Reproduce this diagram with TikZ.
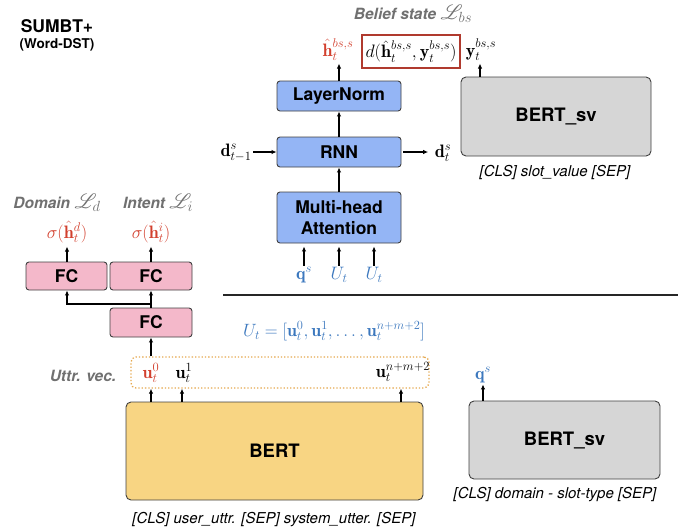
\RequirePackage{fix-cm}
\documentclass[tikz,border=0pt]{standalone}
\usepackage{amsmath}
\IfFileExists{mathrsfs.sty}{\usepackage{mathrsfs}\newcommand\myL{\mathscr{L}}}{\newcommand\myL{\mathcal{L}}}
\usepackage{fontspec}
\setsansfont{TeX Gyre Heros}
\usetikzlibrary{arrows.meta}
\newcommand\myfs[1]{\fontsize{#1}{#1}\selectfont}
\definecolor{redt}{HTML}{D2402E}
\definecolor{bluet}{HTML}{3C78BE}
\definecolor{grayt}{HTML}{707070}
\definecolor{boxblue}{HTML}{94B5F5}
\definecolor{pinkc}{HTML}{F4B8CA}
\definecolor{yellowc}{HTML}{F8D583}
\definecolor{grayc}{HTML}{D6D6D6}
\definecolor{orangec}{HTML}{E5A84E}
\definecolor{redbox}{HTML}{B03A2E}
\begin{document}
\begin{tikzpicture}[x=1pt,y=-1pt,
  arr/.style={-{Latex[length=5pt,width=4.5pt]}, line width=1.1pt},
  blk/.style={draw=black!75, line width=0.9pt, rounded corners=3pt, inner sep=0pt, font=\sffamily\bfseries\myfs{17.5}},
  bigblk/.style={blk, rounded corners=5pt, font=\sffamily\bfseries\myfs{18.5}},
  mlbl/.style={inner sep=0.5pt, font=\myfs{18}},
  glbl/.style={inner sep=0pt, text=grayt, font=\sffamily\bfseries\itshape\myfs{15.5}},
  clbl/.style={inner sep=0pt, font=\sffamily\itshape\myfs{15}}]
\useasboundingbox (0,0) rectangle (694,531);

% title
\node[inner sep=0pt, font=\sffamily\bfseries\myfs{17.5}] (title) at (57,26) {SUMBT+};
\node[inner sep=0pt, font=\sffamily\bfseries\myfs{13.5}] (sub) at (57,45) {(Word-DST)};

% left part
\node[glbl] (ldom) at (57,203) {Domain {\myfs{21}$\myL_d$}};
\node[glbl] (lint) at (158,203) {Intent {\myfs{21}$\myL_i$}};
\node[mlbl, text=redt] (sd) at (67,232) {$\sigma(\hat{\mathbf{h}}_t^d)$};
\node[mlbl, text=redt] (si) at (151,232) {$\sigma(\hat{\mathbf{h}}_t^i)$};
\node[blk, fill=pinkc, minimum width=81pt, minimum height=28pt] (fcd) at (66.5,276) {FC};
\node[blk, fill=pinkc, minimum width=82pt, minimum height=28pt] (fci) at (151,276) {FC};
\node[blk, fill=pinkc, minimum width=82pt, minimum height=29pt] (fcb) at (151,322.5) {FC};
\draw[arr, shorten >=3pt] (fcd.north -| sd) -- (sd.south);
\draw[arr, shorten >=3pt] (fci.north -| si) -- (si.south);
\draw[arr] (fcb.north) -- (fci.south);
\coordinate (br) at (151,304);
\draw[arr] (br) -| (fcd.south -| sd);

% utterance vectors
\node[draw=orangec, dotted, line width=1.3pt, rounded corners=5pt, minimum width=298pt, minimum height=31pt, inner sep=0pt] (uttr) at (280,372.5) {};
\node[mlbl, text=redt] (u0) at (151,373) {$\mathbf{u}_t^0$};
\node[mlbl] (u1) at (184,373) {$\mathbf{u}_t^1$};
\node[mlbl] (un) at (403,372) {$\mathbf{u}_t^{n+m+2}$};
\node[glbl] (uvec) at (83,376) {Uttr. vec.};
\coordinate (un-x) at (401,372);
\coordinate (u1-x) at (182,372);
\draw[arr] (uttr.north -| fcb) -- (fcb.south);

% BERT
\node[bigblk, fill=yellowc, minimum width=297pt, minimum height=98pt] (bert) at (274.5,451) {BERT};
\node[clbl] (cls1) at (274,520) {[CLS] user\_uttr. [SEP] system\_utter. [SEP]};
\draw[arr] (bert.north -| u0) -- (uttr.south -| u0);
\draw[arr] (bert.north -| u1-x) -- (uttr.south -| u1-x);
\draw[arr] (bert.north -| un-x) -- (uttr.south -| un-x);

% U_t equation and separator
\node[mlbl, text=bluet, font=\myfs{17.8}] (ueq) at (334,331) {$U_t=[\mathbf{u}_t^0,\mathbf{u}_t^1,\ldots,\mathbf{u}_t^{n+m+2}]$};
\coordinate (sepL) at (223,295);
\coordinate (sepR) at (678,295);
\draw[line width=1.3pt, black!85] (sepL) -- (sepR);

% BERT_sv bottom
\node[bigblk, fill=grayc, minimum width=191pt, minimum height=78pt] (bsv2) at (564.5,440) {BERT\_sv};
\node[clbl] (cls2) at (555,495) {[CLS] domain - slot-type [SEP]};
\node[mlbl, text=bluet] (qs2) at (483,375) {$\mathbf{q}^s$};
\draw[arr, shorten >=1pt] (bsv2.north -| qs2) -- (qs2.south);

% top-middle stack
\node[blk, fill=boxblue, minimum width=124pt, minimum height=51pt, align=center, font=\sffamily\bfseries\fontsize{17.5}{21}\selectfont] (mha) at (339,217.5) {Multi-head\\Attention};
\node[blk, fill=boxblue, minimum width=124pt, minimum height=30pt] (rnn) at (339,152) {RNN};
\node[blk, fill=boxblue, minimum width=124pt, minimum height=30pt] (ln) at (339,96) {LayerNorm};
\draw[arr] (mha.north) -- (rnn.south);
\draw[arr] (rnn.north) -- (ln.south);

\node[mlbl] (dtm) at (236,153) {$\mathbf{d}_{t-1}^s$};
\node[mlbl] (dt) at (443,153) {$\mathbf{d}_t^s$};
\draw[arr, shorten <=1pt] (dtm.east |- rnn.west) -- (rnn.west);
\draw[arr, shorten <=2pt, shorten >=6pt] (rnn.east) -- (dt.west |- rnn.east);

\node[mlbl, text=bluet] (qs) at (304,275) {$\mathbf{q}^s$};
\node[mlbl, text=bluet] (ut1) at (339,275) {$U_t$};
\node[mlbl, text=bluet] (ut2) at (374,275) {$U_t$};
\draw[arr, shorten <=1pt, shorten >=3pt] (qs.north) -- (mha.south -| qs);
\draw[arr, shorten <=1pt, shorten >=3pt] (ut1.north -| mha) -- (mha.south);
\draw[arr, shorten <=1pt, shorten >=3pt] (ut2.north) -- (mha.south -| ut2);

\node[mlbl, text=redt] (hbs) at (338,50) {$\hat{\mathbf{h}}_t^{bs,s}$};
\draw[arr, shorten >=2pt] (ln.north) -- (hbs.south -| ln);
\node[draw=redbox, line width=1.2pt, minimum width=98pt, minimum height=33pt, inner sep=0pt, font=\myfs{18}] (dist) at (411,51.5) {$d(\hat{\mathbf{h}}_t^{bs,s},\mathbf{y}_t^{bs,s})$};
\node[mlbl] (ybs) at (481,50) {$\mathbf{y}_t^{bs,s}$};
\node[glbl] (lbs) at (413,14) {Belief state {\myfs{21}$\myL_{bs}$}};

% BERT_sv top
\node[bigblk, fill=grayc, minimum width=190pt, minimum height=79pt] (bsv1) at (556,116.5) {BERT\_sv};
\node[clbl] (cls3) at (555,172) {[CLS] slot\_value [SEP]};
\coordinate (yx) at (480,50);
\draw[arr, shorten >=2pt] (bsv1.north -| yx) -- (ybs.south -| yx);
\end{tikzpicture}
\end{document}
